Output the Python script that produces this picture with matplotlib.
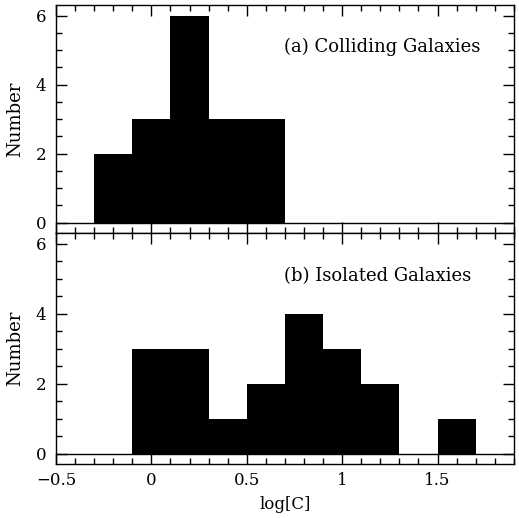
import matplotlib.pyplot as plt
import numpy as np
from matplotlib.ticker import MultipleLocator

# histogram bin edges in log[C] and counts for each panel
edges = [-0.5, -0.3, -0.1, 0.1, 0.3, 0.5, 0.7, 0.9, 1.1, 1.3, 1.5, 1.7, 1.9]
colliding = [0, 2, 3, 6, 3, 3, 0, 0, 0, 0, 0, 0]
isolated = [0, 0, 3, 3, 1, 2, 4, 3, 2, 0, 1, 0]
labels = ['(a) Colliding Galaxies', '(b) Isolated Galaxies']

plt.rcParams['font.family'] = 'DejaVu Serif'
plt.rcParams['font.size'] = 12

fig = plt.figure(figsize=(5.19, 5.18), dpi=100)
ax1 = fig.add_axes([0.108, 0.550, 0.882, 0.440])
ax2 = fig.add_axes([0.108, 0.104, 0.882, 0.446])

for ax, counts, lab in [(ax1, colliding, labels[0]), (ax2, isolated, labels[1])]:
	ax.stairs(counts, edges, fill=True, color='black')
	ax.axhline(0, color='black', lw=1)
	ax.set_xlim(-0.5, 1.9)
	ax.set_ylim(-0.3, 6.3)
	ax.xaxis.set_major_locator(MultipleLocator(0.5))
	ax.xaxis.set_minor_locator(MultipleLocator(0.1))
	ax.yaxis.set_major_locator(MultipleLocator(2))
	ax.yaxis.set_minor_locator(MultipleLocator(0.5))
	ax.tick_params(which='both', direction='in', top=True, right=True, width=1)
	ax.tick_params(which='major', length=8)
	ax.tick_params(which='minor', length=4)
	ax.tick_params(axis='y', pad=7)
	ax.tick_params(axis='x', pad=6)
	ax.set_ylabel('Number', fontsize=13, labelpad=8)
	ax.text(0.695, 4.93, lab, fontsize=13, va='baseline')
	for s in ax.spines.values():
		s.set_linewidth(1)

ax1.tick_params(labelbottom=False)
ax2.set_xticks([-0.5, 0, 0.5, 1, 1.5])
ax2.set_xticklabels(['\u22120.5', '0', '0.5', '1', '1.5'])
ax2.set_xlabel('log[C]', fontsize=12, labelpad=5)

plt.savefig('out.png', dpi=100)
